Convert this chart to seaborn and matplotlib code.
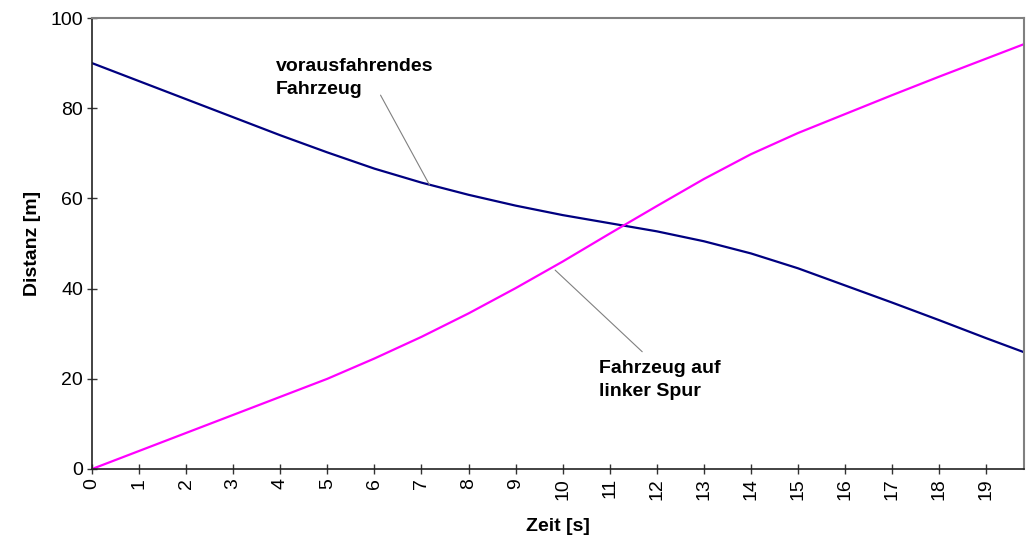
import matplotlib
matplotlib.use("Agg")
import matplotlib.pyplot as plt
import seaborn as sns
import pandas as pd

zeit = [0, 1, 2, 3, 4, 5, 6, 7, 8, 9, 10, 11, 12, 13, 14, 15, 16, 17, 18, 19, 19.8]
vorausfahrend = [90, 86, 82, 78, 74, 70.2, 66.6, 63.5, 60.8, 58.4, 56.3, 54.5, 52.7,
                 50.5, 47.8, 44.5, 40.7, 36.9, 33.0, 29.0, 25.9]
linke_spur = [0, 4, 8, 12, 16, 20, 24.5, 29.3, 34.5, 40.1, 46.0, 52.2, 58.3,
              64.3, 69.8, 74.5, 78.7, 82.9, 87.0, 91.0, 94.2]
x_ticks = list(range(20))
y_ticks = [0, 20, 40, 60, 80, 100]

sns.set_style("white")
plt.rcParams['font.family'] = ['Liberation Sans', 'DejaVu Sans']
plt.rcParams['text.color'] = 'black'

df = pd.DataFrame({'Zeit': zeit, 'voraus': vorausfahrend, 'links': linke_spur})

fig = plt.figure(figsize=(10.27, 5.41), dpi=100)
ax = fig.add_axes([0.0896, 0.1331, 0.9074, 0.8336])

sns.lineplot(data=df, x='Zeit', y='voraus', color='#000080', linewidth=1.6, ax=ax)
sns.lineplot(data=df, x='Zeit', y='links', color='#FF00FF', linewidth=1.6, ax=ax)

ax.set_xlim(0, 19.8)
ax.set_ylim(0, 100)
ax.set_xticks(x_ticks)
ax.set_xticklabels([str(t) for t in x_ticks], rotation=90)
ax.set_yticks(y_ticks)
ax.tick_params(bottom=True, left=True, direction='inout', length=7, width=1,
               color='#333333', labelsize=14, labelcolor='black', pad=3)

for side in ['left', 'bottom']:
    ax.spines[side].set_color('#222222')
    ax.spines[side].set_linewidth(1.2)
for side in ['top', 'right']:
    ax.spines[side].set_color('#808080')
    ax.spines[side].set_linewidth(1.5)

ax.set_xlabel('Zeit [s]', fontsize=14, fontweight='bold', color='black', labelpad=13)
ax.set_ylabel('Distanz [m]', fontsize=14, fontweight='bold', color='black', labelpad=7)

ax.annotate('vorausfahrendes\nFahrzeug', xy=(7.17, 63.0), xytext=(3.9, 91.2),
            fontsize=14, fontweight='bold', va='top', ha='left', linespacing=1.45)
ax.plot([6.13, 7.17], [82.9, 63.0], color='#808080', linewidth=0.8)

ax.annotate('Fahrzeug auf\nlinker Spur', xy=(9.84, 44.1), xytext=(10.78, 24.2),
            fontsize=14, fontweight='bold', va='top', ha='left', linespacing=1.45)
ax.plot([9.84, 11.69], [44.1, 26.0], color='#808080', linewidth=0.8)

fig.savefig('out.png', dpi=100)
